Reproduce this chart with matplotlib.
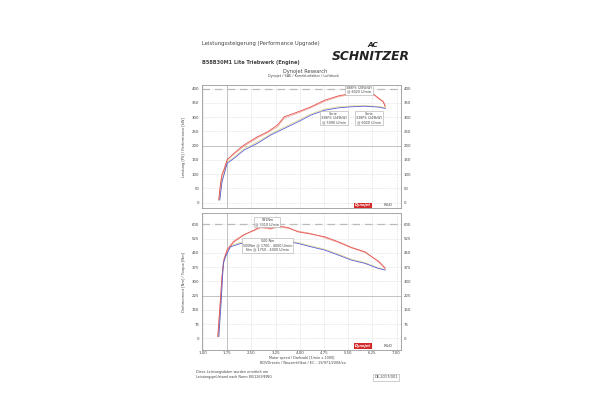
import matplotlib.pyplot as plt

# rpm / 1000
rpm_ticks = [1.00, 1.75, 2.50, 3.25, 4.00, 4.75, 5.50, 6.25, 7.00]
power_ticks = [0, 50, 100, 150, 200, 250, 300, 350, 400]
torque_ticks = [0, 75, 150, 225, 300, 375, 450, 525, 600]

# power [PS]
rpm_pw_tuned = [1.49, 1.54, 1.59, 1.65, 1.75, 1.96, 2.27, 2.69, 3.00, 3.31, 3.52, 3.94,
                4.35, 4.77, 5.19, 5.60, 6.02, 6.23, 6.44, 6.59, 6.65]
pw_tuned = [9, 62, 97, 114, 149, 173, 202, 231, 248, 272, 301, 318,
            336, 359, 374, 383, 388, 386, 365, 353, 336]
pw_tuned_b = [12, 66, 100, 118, 152, 170, 198, 227, 245, 266, 296, 314,
              333, 355, 371, 380, 386, 384, 368, 355, 340]
rpm_pw_stock = [1.52, 1.59, 1.75, 1.96, 2.27, 2.69, 3.10, 3.52, 3.94, 4.35, 4.77,
                5.19, 5.60, 6.02, 6.44, 6.65]
pw_stock = [9, 73, 138, 155, 184, 208, 237, 260, 283, 307, 324, 332, 336, 338, 335, 330]
pw_stock_b = [11, 78, 142, 160, 189, 213, 241, 265, 288, 311, 328, 336, 339, 340, 337, 333]

# torque [Nm]
rpm_tq_tuned = [1.46, 1.52, 1.59, 1.65, 1.75, 1.96, 2.27, 2.58, 2.79, 3.10, 3.31, 3.63,
                3.94, 4.35, 4.77, 5.19, 5.60, 6.02, 6.44, 6.65]
tq_tuned = [9, 149, 325, 412, 465, 509, 544, 570, 588, 579, 591, 584,
            561, 549, 535, 509, 479, 456, 404, 368]
tq_tuned_b = [12, 160, 330, 418, 470, 514, 548, 566, 582, 575, 586, 580,
              565, 552, 530, 505, 476, 452, 408, 372]
rpm_tq_stock = [1.49, 1.56, 1.63, 1.70, 1.85, 2.17, 2.48, 2.79, 3.21, 3.63, 3.94, 4.35,
                4.77, 5.19, 5.60, 6.02, 6.44, 6.65]
tq_stock = [9, 184, 395, 430, 482, 500, 500, 500, 496, 509, 500, 482,
            465, 439, 412, 395, 368, 360]
tq_stock_b = [12, 190, 400, 436, 488, 506, 506, 505, 502, 513, 505, 487,
              470, 444, 417, 399, 371, 362]

RED = '#e4524f'
PINK = '#f3a99c'
BLUE = '#5b5fd6'
YEL = '#e2dc96'
TXT = '#444444'

fig = plt.figure(figsize=(6, 3.94), dpi=100)


def dyno_axes(rect, ticks, ylim, major_y, ylabel):
    ax = fig.add_axes(rect)
    ax.set_xlim(0.97, 7.14)
    ax.set_ylim(*ylim)
    ax.set_xticks(rpm_ticks)
    ax.set_yticks(ticks)
    ax.set_yticklabels([str(t) for t in ticks])
    ax.tick_params(labelsize=2.8, colors=TXT, length=0, pad=2)
    ax.tick_params(axis='y', labelright=True)
    for s in ax.spines.values():
        s.set_color('#999999')
        s.set_linewidth(0.6)
    ax.grid(True, color='#dddddd', linestyle='--', linewidth=0.4)
    ax.axvline(1.75, color='#bbbbbb', linewidth=0.6)
    ax.axhline(major_y, color='#bbbbbb', linewidth=0.6)
    ax.axhline(ticks[-1], color='#bbbbbb', linewidth=0.9, linestyle=(0, (6, 4)))
    ax.set_ylabel(ylabel, fontsize=2.6, color=TXT, labelpad=4)
    return ax


# power chart
ax1 = dyno_axes([0.3367, 0.472, 0.3317, 0.312], power_ticks, (-19, 412), 200,
                'Leistung [PS] / Performance [kW]')
ax1.set_xticklabels([])
ax1.plot(rpm_pw_tuned, pw_tuned_b, color=PINK, lw=0.6)
ax1.plot(rpm_pw_stock, pw_stock_b, color=YEL, lw=0.6)
ax1.plot(rpm_pw_tuned, pw_tuned, color=RED, lw=0.6)
ax1.plot(rpm_pw_stock, pw_stock, color=BLUE, lw=0.6)

box = dict(boxstyle='square,pad=0.3', fc='white', ec='#aaaaaa', lw=0.4)
ax1.text(5.85, 396, '388PS (285kW)\n@ 6020 U/min', fontsize=2.4, color=TXT,
         ha='center', va='center', bbox=box, linespacing=1.1)
ax1.text(5.05, 296, 'Serie\n338PS (249kW)\n@ 5990 U/min', fontsize=2.4, color=TXT,
         ha='center', va='center', bbox=box, linespacing=1.1)
ax1.text(6.15, 296, 'Serie\n338PS (249kW)\n@ 6020 U/min', fontsize=2.4, color=TXT,
         ha='center', va='center', bbox=box, linespacing=1.1)

# torque chart
ax2 = dyno_axes([0.3367, 0.1117, 0.3317, 0.3477], torque_ticks, (-61, 660), 225,
                'Drehmoment [Nm] / Torque [Nm]')
ax2.set_xticklabels(['%.2f' % t for t in rpm_ticks])
ax2.tick_params(axis='x', pad=1.0)
ax2.plot(rpm_tq_tuned, tq_tuned_b, color=PINK, lw=0.6)
ax2.plot(rpm_tq_stock, tq_stock_b, color=YEL, lw=0.6)
ax2.plot(rpm_tq_tuned, tq_tuned, color=RED, lw=0.6)
ax2.plot(rpm_tq_stock, tq_stock, color=BLUE, lw=0.6)
ax2.text(3.0, 612, '591Nm\n@ 3310 U/min', fontsize=2.4, color=TXT,
         ha='center', va='center', bbox=box, linespacing=1.1)
ax2.text(3.0, 490, '500 Nm\n500Nm @ 1700 - 4000 U/min\nNm @ 1750 - 4000 U/min', fontsize=2.4,
         color=TXT, ha='center', va='center', bbox=box, linespacing=1.1)

# Dynojet logos
for ax, y in [(ax1, -10), (ax2, -38)]:
    ax.text(5.95, y, 'Dynojet', fontsize=2.6, color='white', fontweight='bold', style='italic',
            ha='center', va='center',
            bbox=dict(boxstyle='square,pad=0.25', fc='#d42a2a', ec='none'))
    ax.text(6.75, y, 'R&D', fontsize=2.6, color='#888888', fontweight='bold',
            ha='center', va='center')

# page texts
fig.text(0.337, 1 - 44 / 394, 'Leistungssteigerung (Performance Upgrade)', fontsize=3.8,
         color=TXT, va='center')
fig.text(0.337, 1 - 62.5 / 394, 'B58B30M1 Lite Triebwerk (Engine)', fontsize=3.6,
         color=TXT, va='center', fontweight='bold')
fig.text(0.622, 1 - 45 / 394, 'AC', fontsize=5.2, color='#222222', style='italic',
         fontweight='bold', ha='center', va='center')
fig.text(0.618, 1 - 56.5 / 394, 'SCHNITZER', fontsize=8.8, color='#222222', style='italic',
         fontweight='bold', ha='center', va='center')
fig.text(0.508, 1 - 71.5 / 394, 'Dynojet Research', fontsize=3.6, color=TXT,
         ha='center', va='center')
fig.text(0.505, 1 - 76.5 / 394, 'Dynojet / SAE / Korrekturfaktor / Luftdruck', fontsize=2.4,
         color=TXT, ha='center', va='center')
fig.text(0.502, 1 - 357.5 / 394, 'Motor speed / Drehzahl [1/min x 1000]', fontsize=2.4,
         color=TXT, ha='center', va='center')
fig.text(0.505, 1 - 362.5 / 394, 'BDVDrestis / Neuzertifikat / EC - 19/971/2008/xx', fontsize=2.5,
         color=TXT, ha='center', va='center')
fig.text(0.327, 1 - 372 / 394, 'Diese Leistungsdaten wurden ermittelt am', fontsize=2.4,
         color=TXT, va='center')
fig.text(0.327, 1 - 377 / 394, 'Leistungsprüfstand nach Norm 80/1269/EWG', fontsize=2.4,
         color=TXT, va='center')
fig.text(0.663, 1 - 377.5 / 394, 'DE-2017/001', fontsize=2.6, color=TXT, ha='right',
         va='center', bbox=dict(boxstyle='square,pad=0.3', fc='white', ec='#aaaaaa', lw=0.4))

fig.savefig('out.png', dpi=100)
